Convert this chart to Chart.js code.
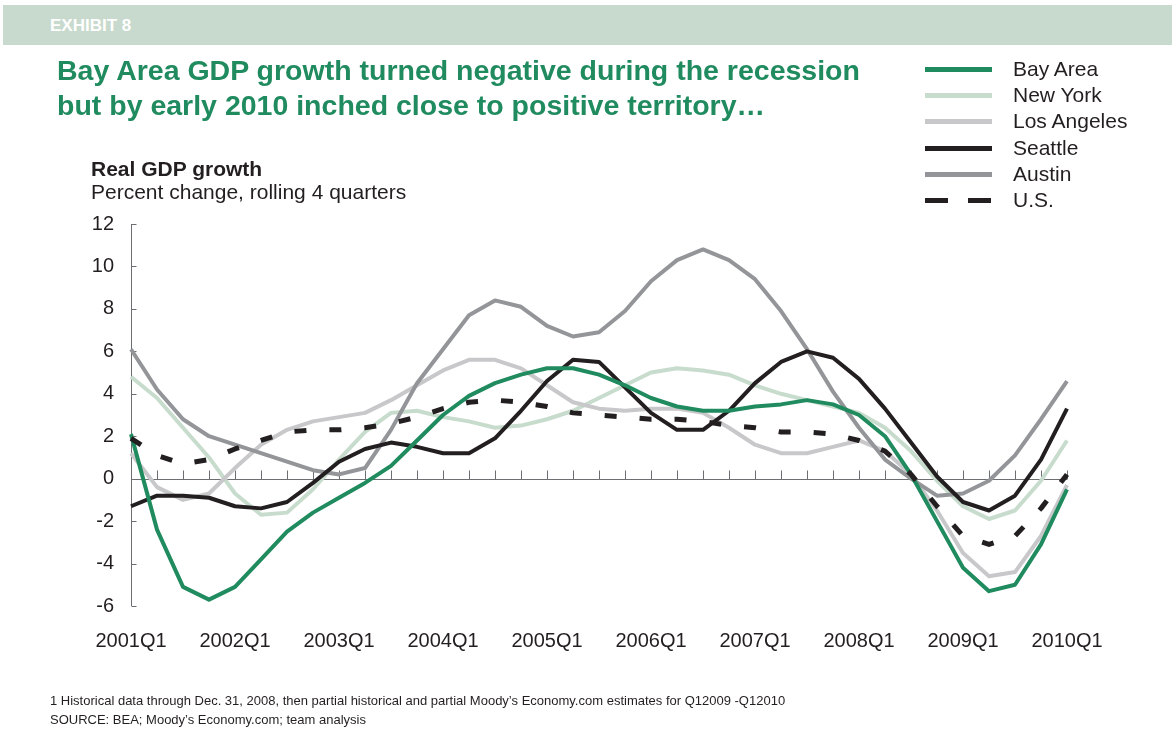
<!DOCTYPE html>
<html lang="en">
<head>
<meta charset="UTF-8">
<title>Exhibit 8</title>
<style>
    body {
        margin: 0;
        width: 1175px;
        height: 751px;
        position: relative;
        overflow: hidden;
        background: #ffffff;
        font-family: Arial, "Liberation Sans", sans-serif;
        color: #231f20;
    }
    #gdpChart { position: absolute; left: 0; top: 0; }
    .band {
        position: absolute; left: 3px; top: 5px; width: 1169px; height: 40px;
        background: #c8dacd;
    }
    .band span {
        position: absolute; left: 47px; top: 11px;
        color: #ffffff; font-weight: bold; font-size: 17px;
    }
    .headline {
        position: absolute; left: 57px; top: 53px; white-space: nowrap;
        font-size: 28.5px; font-weight: bold; line-height: 35px; color: #208b5f;
    }
    .axis-title { position: absolute; left: 91px; top: 157px; font-size: 21px; line-height: 23px; white-space: nowrap; }
    .axis-title b { display: block; }
    #legend { position: absolute; left: 925px; top: 57px; }
    .legend-row { position: relative; height: 26.2px; white-space: nowrap; }
    .legend-row i { position: absolute; left: 0; top: 10px; width: 67px; height: 5px; }
    .legend-row span { position: absolute; left: 88px; top: 0px; font-size: 21px; }
    .notes { position: absolute; left: 50px; top: 691px; font-size: 13px; line-height: 19px; white-space: nowrap; }
</style>
</head>
<body>
<canvas id="gdpChart" width="1175" height="751"></canvas>
<div class="band"><span>EXHIBIT 8</span></div>
<div class="headline">Bay Area GDP growth turned negative during the recession<br>but by early 2010 inched close to positive territory…</div>
<div class="axis-title"><b>Real GDP growth</b>Percent change, rolling 4 quarters</div>
<div id="legend"></div>
<div class="notes">1 Historical data through Dec. 31, 2008, then partial historical and partial Moody’s Economy.com estimates for Q12009 -Q12010<br>SOURCE: BEA; Moody’s Economy.com; team analysis</div>

<script src="https://cdn.jsdelivr.net/npm/chart.js@4.4.1/dist/chart.umd.min.js"></script>
<script>
// quarters 2001Q1 .. 2010Q1
const years = [2001, 2002, 2003, 2004, 2005, 2006, 2007, 2008, 2009, 2010];
const quarters = [];
years.forEach(y => {
    for (let q = 1; q <= 4; q++) {
        if (y === 2010 && q > 1) break;
        quarters.push(y + 'Q' + q);
    }
});

const yTicks = [12, 10, 8, 6, 4, 2, 0, -2, -4, -6];

// real GDP growth, % change rolling 4 quarters
const bayArea = [2.1, -2.4, -5.1, -5.7, -5.1, -3.8, -2.5, -1.6, -0.9, -0.2, 0.6, 1.8, 3.0, 3.9, 4.5, 4.9, 5.2, 5.2, 4.9, 4.4, 3.8, 3.4, 3.2, 3.2, 3.4, 3.5, 3.7, 3.5, 3.0, 2.0, 0.2, -2.0, -4.2, -5.3, -5.0, -3.1, -0.5];
const newYork = [4.8, 3.8, 2.4, 1.0, -0.7, -1.7, -1.6, -0.5, 0.9, 2.2, 3.1, 3.2, 2.9, 2.7, 2.4, 2.5, 2.8, 3.2, 3.8, 4.4, 5.0, 5.2, 5.1, 4.9, 4.4, 4.0, 3.7, 3.4, 3.1, 2.4, 1.3, -0.1, -1.3, -1.9, -1.5, -0.1, 1.8];
const losAngeles = [1.2, -0.4, -1.0, -0.7, 0.5, 1.6, 2.3, 2.7, 2.9, 3.1, 3.7, 4.4, 5.1, 5.6, 5.6, 5.2, 4.4, 3.6, 3.3, 3.2, 3.3, 3.3, 3.1, 2.4, 1.6, 1.2, 1.2, 1.5, 1.8, 1.3, 0.2, -1.5, -3.5, -4.6, -4.4, -2.7, -0.3];
const seattle = [-1.3, -0.8, -0.8, -0.9, -1.3, -1.4, -1.1, -0.2, 0.8, 1.4, 1.7, 1.5, 1.2, 1.2, 1.9, 3.2, 4.6, 5.6, 5.5, 4.3, 3.1, 2.3, 2.3, 3.2, 4.5, 5.5, 6.0, 5.7, 4.7, 3.3, 1.7, 0.1, -1.1, -1.5, -0.8, 0.9, 3.3];
const austin = [6.1, 4.2, 2.8, 2.0, 1.6, 1.2, 0.8, 0.4, 0.2, 0.5, 2.3, 4.5, 6.1, 7.7, 8.4, 8.1, 7.2, 6.7, 6.9, 7.9, 9.3, 10.3, 10.8, 10.3, 9.4, 7.9, 6.1, 4.1, 2.4, 0.9, 0.0, -0.8, -0.7, -0.1, 1.1, 2.8, 4.6];
const usa = [1.9, 1.1, 0.7, 0.9, 1.4, 1.8, 2.2, 2.3, 2.3, 2.4, 2.6, 2.9, 3.3, 3.6, 3.7, 3.6, 3.4, 3.1, 3.0, 2.9, 2.8, 2.8, 2.7, 2.5, 2.4, 2.2, 2.2, 2.1, 1.8, 1.3, 0.2, -1.3, -2.7, -3.1, -2.7, -1.4, 0.2];

const axisColor = '#6d6e71';
const tickFont = { family: 'Arial, "Liberation Sans", sans-serif', size: 20 };

function series(label, data, color, order, dash) {
    return {
        label: label,
        data: data,
        borderColor: color,
        backgroundColor: color,
        borderWidth: dash ? 5 : 4,
        borderDash: dash || [],
        borderJoinStyle: 'round',
        borderCapStyle: 'butt',
        pointRadius: 0,
        tension: 0,
        fill: false,
        order: order
    };
}

// y axis line with inward ticks, zero line with upward quarter ticks
const axesPlugin = {
    id: 'axesPlugin',
    beforeDatasetsDraw(chart) {
        const ctx = chart.ctx;
        const x = chart.scales.x;
        const y = chart.scales.y;
        const left = Math.round(chart.chartArea.left) + 0.5;
        const zero = Math.round(y.getPixelForValue(0)) + 0.5;
        ctx.save();
        ctx.strokeStyle = axisColor;
        ctx.lineWidth = 1;
        ctx.beginPath();
        ctx.moveTo(left, y.getPixelForValue(12));
        ctx.lineTo(left, y.getPixelForValue(-6));
        yTicks.forEach(v => {
            const py = Math.round(y.getPixelForValue(v)) + 0.5;
            ctx.moveTo(left, py);
            ctx.lineTo(left + 5, py);
        });
        ctx.moveTo(left, zero);
        ctx.lineTo(x.getPixelForValue(quarters.length - 1), zero);
        quarters.forEach((q, i) => {
            const px = Math.round(x.getPixelForValue(i)) + 0.5;
            ctx.moveTo(px, zero);
            ctx.lineTo(px, zero - 9);
        });
        ctx.stroke();
        ctx.restore();
    }
};

const ctx = document.getElementById('gdpChart').getContext('2d');
const chart = new Chart(ctx, {
    type: 'line',
    data: {
        labels: quarters,
        datasets: [
            series('Bay Area', bayArea, '#208b5f', 1),
            series('New York', newYork, '#c8dccd', 5),
            series('Los Angeles', losAngeles, '#c8c8ca', 4),
            series('Seattle', seattle, '#231f20', 2),
            series('Austin', austin, '#939598', 3),
            series('U.S.', usa, '#231f20', 0, [12, 23])
        ]
    },
    options: {
        responsive: false,
        animation: false,
        layout: { padding: { left: 0, top: 224, right: 108, bottom: 0 } },
        plugins: {
            legend: { display: false },
            tooltip: { enabled: false }
        },
        scales: {
            x: {
                type: 'category',
                offset: false,
                grid: { display: false, drawTicks: false },
                border: { display: false },
                afterFit: s => { s.height = 145; },
                ticks: {
                    autoSkip: false,
                    maxRotation: 0,
                    padding: 23,
                    color: '#231f20',
                    font: tickFont,
                    callback: (v, i) => (i % 4 === 0 ? quarters[i] : '')
                }
            },
            y: {
                min: -6,
                max: 12,
                grid: { display: false, drawTicks: false },
                border: { display: false },
                afterFit: s => { s.width = 131; },
                afterBuildTicks: s => { s.ticks = yTicks.map(v => ({ value: v })); },
                ticks: {
                    padding: 17,
                    color: '#231f20',
                    font: tickFont
                }
            }
        }
    },
    plugins: [axesPlugin]
});

// legend built from the chart's datasets
const legend = document.getElementById('legend');
chart.data.datasets.forEach(ds => {
    const row = document.createElement('div');
    row.className = 'legend-row';
    const swatch = document.createElement('i');
    if (ds.borderDash.length) {
        swatch.style.background = 'repeating-linear-gradient(to right, ' + ds.borderColor +
            ' 0 23px, transparent 23px 43px)';
    } else {
        swatch.style.background = ds.borderColor;
    }
    const text = document.createElement('span');
    text.textContent = ds.label;
    row.appendChild(swatch);
    row.appendChild(text);
    legend.appendChild(row);
});
</script>
</body>
</html>
